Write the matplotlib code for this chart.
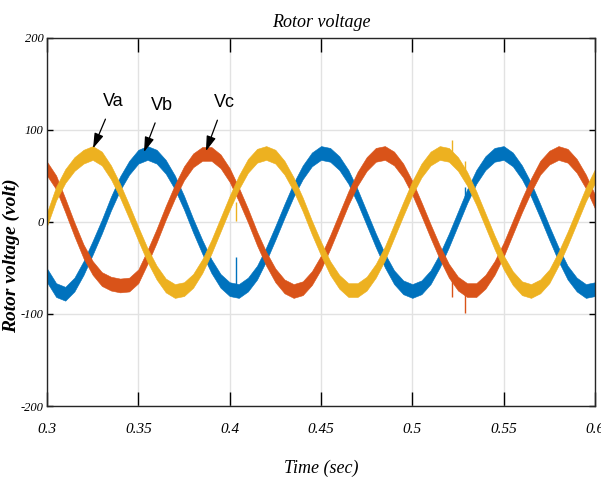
import numpy as np
import matplotlib
matplotlib.use("Agg")
import matplotlib.pyplot as plt

plt.rcParams["axes.unicode_minus"] = False

# time base of the read-off samples (every 5 ms)
t = np.linspace(0.3, 0.6, 61)

# phase voltages (centre of the ripple band)
va = [3, 31, 50, 63, 71, 75, 69, 54, 34, 11,
      -13, -36, -55, -69, -75, -73, -64, -48, -27, -3,
      21, 43, 61, 72, 75, 71, 59, 41, 19, -6,
      -29, -50, -65, -74, -74, -67, -53, -34, -10, 14,
      37, 56, 69, 75, 73, 63, 47, 26, 2, -22,
      -44, -61, -72, -75, -70, -59, -40, -18, 6, 30,
      50]
vb = [-58, -74, -78, -68, -50, -28, -5, 20, 42, 59,
      71, 75, 71, 60, 43, 21, -4, -27, -48, -64,
      -73, -75, -68, -55, -35, -12, 12, 35, 54, 68,
      75, 73, 64, 49, 28, 4, -20, -42, -60, -71,
      -75, -71, -60, -42, -20, 4, 28, 49, 64, 73,
      75, 68, 54, 35, 12, -12, -35, -55, -68, -75,
      -73]
vc = [58, 43, 18, -8, -32, -50, -62, -67, -69, -68,
      -59, -38, -15, 10, 33, 53, 67, 74, 74, 66,
      51, 30, 7, -18, -40, -58, -70, -75, -72, -61,
      -44, -22, 2, 26, 47, 63, 73, 75, 69, 56,
      37, 14, -10, -33, -53, -67, -74, -74, -65, -50,
      -30, -6, 18, 40, 59, 70, 75, 72, 61, 44,
      22]
ripple = 7.5  # half height of the switching ripple band

# short switching spikes
spike_t = [0.4034, 0.4034, 0.3963, 0.5218, 0.5288, 0.5288, 0.5218, 0.5288]
spike_lo = [1, -68, 58, 75, 48, 27, -81, -99]
spike_hi = [22, -38, 66, 89, 66, 38, -52, -70]
spike_phase = ["Va", "Vb", "Vc", "Va", "Va", "Vb", "Vc", "Vc"]

# arrow labels: text position and arrow tip
ann_labels = ["Va", "Vb", "Vc"]
ann_text_t = [0.3361, 0.3629, 0.3969]
ann_text_v = [131, 127, 130]
ann_tip_t = [0.3252, 0.3531, 0.3870]
ann_tip_v = [80, 76, 77]

xticks = [0.3, 0.35, 0.4, 0.45, 0.5, 0.55, 0.6]
xtick_labels = ["0.3", "0.35", "0.4", "0.45", "0.5", "0.55", "0.6"]
yticks = [-200, -100, 0, 100, 200]

colors = {"Vb": "#0072BD", "Vc": "#D95319", "Va": "#EDB120"}
serif = ["Liberation Serif", "DejaVu Serif"]
narrow = ["Liberation Sans Narrow", "Liberation Sans", "DejaVu Sans"]

fig = plt.figure(figsize=(6.01, 4.79), dpi=100)
ax = fig.add_axes([0.0782, 0.1524, 0.9118, 0.7683])

# same stacking as the original: blue, orange, yellow on top
for name, v in [("Vb", vb), ("Vc", vc), ("Va", va)]:
    v = np.asarray(v, dtype=float)
    ax.fill_between(t, v - ripple, v + ripple, color=colors[name], lw=0.4,
                    edgecolor=colors[name])

for st, lo, hi, ph in zip(spike_t, spike_lo, spike_hi, spike_phase):
    ax.vlines(st, lo, hi, color=colors[ph], lw=1.0)

for lab, tx, tv, px, pv in zip(ann_labels, ann_text_t, ann_text_v, ann_tip_t, ann_tip_v):
    ax.annotate(lab, xy=(px, pv), xytext=(tx, tv), ha="center", va="center",
                fontsize=13, family=narrow,
                arrowprops=dict(arrowstyle="-|>,head_length=0.7,head_width=0.22",
                                color="black", lw=0.9, shrinkA=5, shrinkB=0))

ax.set_xlim(0.3, 0.6)
ax.set_ylim(-200, 200)
ax.set_xticks(xticks)
ax.set_xticklabels(xtick_labels)
ax.set_yticks(yticks)
ax.grid(True, color="#e2e2e2", lw=1.0)
ax.set_axisbelow(True)

ax.tick_params(axis="x", direction="in", length=10, width=1, pad=12,
               top=True, labelsize=11)
ax.tick_params(axis="y", direction="in", length=4, width=1, pad=2.5,
               right=True, labelsize=9)
for lab in ax.get_xticklabels() + ax.get_yticklabels():
    lab.set_family(serif)
    lab.set_style("italic")
for sp in ax.spines.values():
    sp.set_color("#262626")
    sp.set_linewidth(1.0)

ax.set_title("Rotor voltage", family=serif, style="italic", fontsize=13, pad=8)
ax.set_xlabel("Time (sec)", family=serif, style="italic", fontsize=13)
ax.xaxis.set_label_coords(0.5, -0.145)
ax.set_ylabel("Rotor voltage (volt)", family=serif, style="italic",
              fontweight="bold", fontsize=14)
ax.yaxis.set_label_coords(-0.049, 0.408)

fig.savefig("out.png", dpi=100)
